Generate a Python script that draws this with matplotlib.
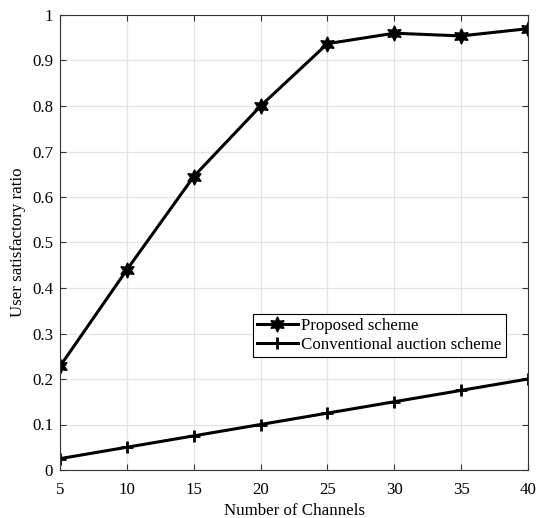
import matplotlib
matplotlib.use("Agg")
import matplotlib.pyplot as plt

plt.rcParams['font.family'] = ['Liberation Serif', 'DejaVu Serif']

channels = [5, 10, 15, 20, 25, 30, 35, 40]
proposed = [0.228, 0.44, 0.645, 0.80, 0.937, 0.96, 0.954, 0.97]
conventional = [0.025, 0.05, 0.075, 0.10, 0.125, 0.15, 0.175, 0.20]

fig = plt.figure(figsize=(5.38, 5.18), dpi=100)
ax = fig.add_axes([60/538, 1 - 470/518, 468/538, 455/518])

ax.plot(channels, proposed, color='black', lw=2.2, marker=(6, 1, 0),
        markersize=11, label='Proposed scheme')
ax.plot(channels, conventional, color='black', lw=2.2, marker='+',
        markersize=8, markeredgewidth=2, label='Conventional auction scheme')

ax.set_xlim(5, 40)
ax.set_ylim(0, 1)
ax.set_xticks(channels)
ax.set_yticks([i / 10 for i in range(11)])
ax.set_yticklabels(['0', '0.1', '0.2', '0.3', '0.4', '0.5', '0.6', '0.7', '0.8', '0.9', '1'])
ax.grid(True, color='#e3e3e3', lw=0.9)
ax.set_axisbelow(True)
ax.tick_params(direction='in', top=True, right=True, labelsize=12.2, length=4,
               color='#333333')
ax.tick_params(axis='x', pad=9)
ax.tick_params(axis='y', pad=5)
for s in ax.spines.values():
    s.set_color('#333333')
    s.set_linewidth(0.8)

ax.set_xlabel('Number of Channels', fontsize=12.2, labelpad=3)
ax.set_ylabel('User satisfactory ratio', fontsize=12.2, labelpad=4)

leg = ax.legend(loc='lower left', bbox_to_anchor=(0.412, 0.248), fontsize=12.2,
                fancybox=False, edgecolor='black', framealpha=1,
                handlelength=2.4, handletextpad=0.2, borderpad=0.25,
                labelspacing=0.15, borderaxespad=0)
leg.get_frame().set_linewidth(0.8)

fig.savefig('out.png', dpi=100)
